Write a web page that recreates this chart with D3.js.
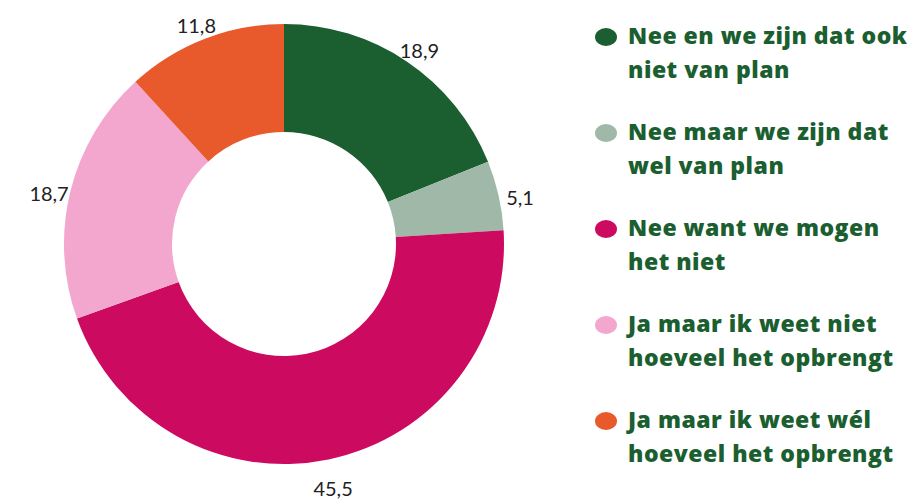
<!DOCTYPE html>
<html><head><meta charset="utf-8">
<script src="https://cdn.jsdelivr.net/npm/d3@7"></script>
<style>body{margin:0;background:#fff}svg{display:block}</style>
</head><body>
<script>
const categories = [
  "Nee en we zijn dat ook niet van plan",
  "Nee maar we zijn dat wel van plan",
  "Nee want we mogen het niet",
  "Ja maar ik weet niet hoeveel het opbrengt",
  "Ja maar ik weet wél hoeveel het opbrengt"
];
const legendLines = [
  ["Nee en we zijn dat ook", "niet van plan"],
  ["Nee maar we zijn dat", "wel van plan"],
  ["Nee want we mogen", "het niet"],
  ["Ja maar ik weet niet", "hoeveel het opbrengt"],
  ["Ja maar ik weet wél", "hoeveel het opbrengt"]
];
const values = [18.9, 5.1, 45.5, 18.7, 11.8];
const valueLabels = ["18,9", "5,1", "45,5", "18,7", "11,8"];
const colors = ["#1b5e30", "#9fb8a8", "#cc0a5f", "#f3a7cf", "#e8592c"];

const W = 909, H = 503;
const svg = d3.select("body").append("svg").attr("width", W).attr("height", H);
const cx = 284, cy = 244, rOuter = 220, rInner = 112;

const pie = d3.pie().sort(null).value(d => d)(values);
const arc = d3.arc().innerRadius(rInner).outerRadius(rOuter);
const g = svg.append("g").attr("transform", `translate(${cx},${cy})`);
g.selectAll("path").data(pie).join("path")
  .attr("d", arc).attr("fill", (d, i) => colors[i]);

const labelR = 242;
g.selectAll("text.val").data(pie).join("text")
  .attr("class", "val")
  .attr("x", d => Math.sin((d.startAngle + d.endAngle) / 2) * labelR)
  .attr("y", d => -Math.cos((d.startAngle + d.endAngle) / 2) * labelR + 8)
  .attr("dy", "0.35em")
  .attr("text-anchor", "middle")
  .attr("font-family", "Lato, 'Open Sans', sans-serif")
  .attr("font-size", 20)
  .attr("fill", "#222")
  .text((d, i) => valueLabels[i]);

const leg = svg.append("g");
const step = 96;
legendLines.forEach((lines, i) => {
  const by = 44 + i * step;
  leg.append("ellipse").attr("cx", 606).attr("cy", by - 7).attr("rx", 11).attr("ry", 9)
    .attr("fill", colors[i]);
  lines.forEach((t, j) => {
    leg.append("text").attr("x", 628).attr("y", by + j * 34)
      .attr("font-family", "'Open Sans', Lato, sans-serif")
      .attr("font-weight", 800).attr("font-size", 23)
      .attr("letter-spacing", 0.5)
      .attr("fill", "#1b5e30").text(t);
  });
});
</script>
</body></html>
